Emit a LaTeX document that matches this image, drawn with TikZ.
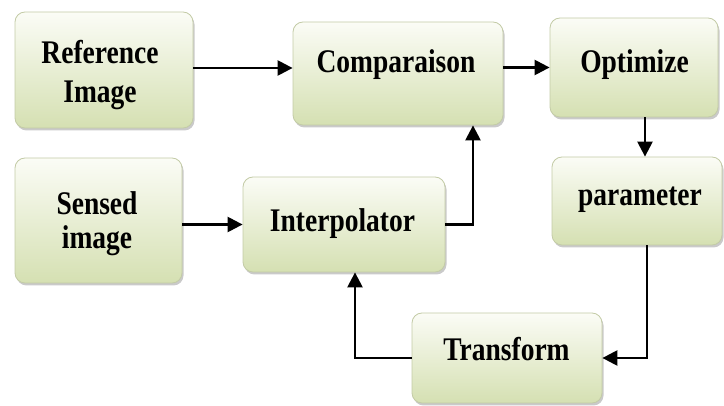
\documentclass[tikz,border=0pt]{standalone}
\usepackage{fontspec}
\setmainfont{Liberation Serif}
\usetikzlibrary{arrows.meta,shadows,calc}

\definecolor{boxtop}{HTML}{FBFCF6}
\definecolor{boxbot}{HTML}{D5E0B2}
\definecolor{boxline}{HTML}{C3CBA6}

% block labels are set slightly tall; the first line's baseline is the reference point
\newcommand{\blocktext}[1]{\scalebox{1}[1.2]{\begin{tabular}[t]{@{}c@{}}#1\end{tabular}}}

\tikzset{
  block/.style={
    draw=boxline, line width=0.8pt, rounded corners=10pt,
    top color=boxtop, bottom color=boxbot,
    drop shadow={shadow xshift=1.5pt, shadow yshift=-2.5pt, opacity=0.35, fill=black!60},
    inner sep=0pt
  },
  lbl/.style={anchor=base, inner sep=0pt,
    font=\bfseries\fontsize{27.5}{28}\selectfont},
  flow/.style={line width=2.4pt, -{Triangle[length=15pt,width=15pt]}}
}

\begin{document}
\begin{tikzpicture}[x=1pt,y=-1pt]
  \useasboundingbox (0,0) rectangle (724,406);

  % blocks
  \node[block, minimum width=178pt, minimum height=116pt] (ref) at (104,70) {};
  \node[block, minimum width=210pt, minimum height=103pt] (cmp) at (398,73.5) {};
  \node[block, minimum width=168pt, minimum height=99pt] (opt) at (634,67.5) {};
  \node[block, minimum width=167pt, minimum height=125pt] (sen) at (98.5,220.5) {};
  \node[block, minimum width=202pt, minimum height=95pt] (itp) at (344,224.5) {};
  \node[block, minimum width=170pt, minimum height=88pt] (par) at (637,201) {};
  \node[block, minimum width=190pt, minimum height=90pt] (trf) at (507,358) {};

  % labels, placed on their baselines
  \node[lbl] (reftxt) at (100,64) {\blocktext{Reference\\[3.7pt]Image}};
  \node[lbl] (cmptxt) at (396,73) {\blocktext{Comparaison}};
  \node[lbl] (opttxt) at (634.5,73) {\blocktext{Optimize}};
  \node[lbl] (sentxt) at (97,215) {\blocktext{Sensed\\[0.3pt]image}};
  \node[lbl] (itptxt) at (342.5,232) {\blocktext{Interpolator}};
  \node[lbl] (partxt) at (640,206) {\blocktext{parameter}};
  \node[lbl] (trftxt) at (506.5,361) {\blocktext{Transform}};

  % connectors
  \draw[flow] (ref.east |- 0,68) -- (cmp.west |- 0,68);
  \draw[flow] (opt.west -| cmp.east) -- (opt.west);
  \draw[flow] ([xshift=11pt]opt.south) -- ([xshift=11pt]opt.south |- par.north);
  \draw[flow] (itp.west -| sen.east) -- (itp.west);
  \draw[flow] (itp.east) -| ([xshift=75pt]cmp.south);
  \draw[flow] ([xshift=10pt]par.south) |- (trf.east);
  \draw[flow] (trf.west) -| ([xshift=11pt]itp.south);
\end{tikzpicture}
\end{document}
